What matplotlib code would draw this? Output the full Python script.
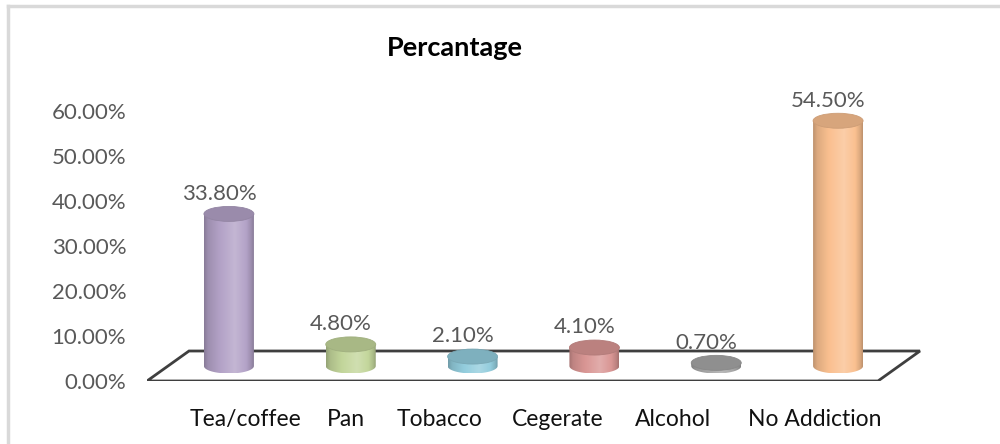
import numpy as np
import matplotlib
matplotlib.use("Agg")
import matplotlib.pyplot as plt
from matplotlib.patches import Ellipse, Polygon, PathPatch
from matplotlib.path import Path
from matplotlib.colors import to_rgb
from matplotlib.lines import Line2D

# ---- data ----
categories = ["Tea/coffee", "Pan", "Tobacco", "Cegerate", "Alcohol", "No Addiction"]
values = [33.8, 4.8, 2.1, 4.1, 0.7, 54.5]
value_labels = ["33.80%", "4.80%", "2.10%", "4.10%", "0.70%", "54.50%"]
y_ticks = [0, 10, 20, 30, 40, 50, 60]
y_tick_labels = ["0.00%", "10.00%", "20.00%", "30.00%", "40.00%", "50.00%", "60.00%"]
bar_colors = ["#B3A2C7", "#C3D69B", "#93CDDD", "#D99694", "#A6A6A6", "#FAC090"]
chart_title = "Percantage"

plt.rcParams["font.family"] = ["Lato", "DejaVu Sans"]

# ---- layout (pixels) ----
W, H = 1000, 444
fig = plt.figure(figsize=(W / 100, H / 100), dpi=100)
fig.patch.set_facecolor("white")

left_px, right_px = 147, 960
front_px, top_px = 381, 60
unit_px = (878 - 147) / 6.0          # one category slot on the floor front edge
pct_px = (381 - 111) / 60.0          # pixels per percentage point
ax = fig.add_axes([left_px / W, (H - front_px) / H,
                   (right_px - left_px) / W, (front_px - top_px) / H])

depth_x = 42 / unit_px               # floor depth, horizontal component
depth_y = 30 / pct_px                # floor depth, vertical component
cyl_w = 50 / unit_px
cyl_eh = 15 / pct_px


def shade(rgb, f):
    rgb = np.asarray(rgb)
    if f >= 1:
        return rgb + (1 - rgb) * (f - 1) * 2.2
    return rgb * f


# floor
floor = Polygon([(-0.5, 0), (5.5, 0), (5.5 + depth_x, depth_y), (-0.5 + depth_x, depth_y)],
                closed=True, facecolor="white", edgecolor="#3f3f3f", lw=2.0, zorder=1)
ax.add_patch(floor)

# shading profile across a cylinder body (left -> right)
t_nodes = [0.0, 0.08, 0.3, 0.62, 0.85, 0.95, 1.0]
f_nodes = [0.76, 0.88, 0.99, 1.10, 1.0, 0.87, 0.76]
t = np.linspace(0, 1, 120)
prof = np.interp(t, t_nodes, f_nodes)

for i, (v, c) in enumerate(zip(values, bar_colors)):
    base_rgb = to_rgb(c)
    xc = i + depth_x / 2
    y0 = depth_y / 2
    x_l, x_r = xc - cyl_w / 2, xc + cyl_w / 2
    top = y0 + v

    # body outline: sides plus lower half of base ellipse
    th = np.linspace(np.pi, 2 * np.pi, 60)
    arc = np.column_stack([xc + cyl_w / 2 * np.cos(th), y0 + cyl_eh / 2 * np.sin(th)])
    verts = np.vstack([[x_l, top], arc, [x_r, top], [x_l, top]])
    body = PathPatch(Path(verts), facecolor="none", edgecolor="none", zorder=2)
    ax.add_patch(body)

    grad = np.array([shade(base_rgb, f) for f in prof]).clip(0, 1)
    img = ax.imshow(grad[np.newaxis, :, :], extent=[x_l, x_r, y0 - cyl_eh / 2, top],
                    aspect="auto", interpolation="bilinear", zorder=2)
    img.set_clip_path(body)

    # top cap
    cap = Ellipse((xc, top), cyl_w, cyl_eh, facecolor=shade(base_rgb, 0.86),
                  edgecolor=shade(base_rgb, 0.82), lw=0.6, zorder=3)
    ax.add_patch(cap)

    ax.annotate(value_labels[i], xy=(xc, top), xytext=(-7.2, 14.5),
                textcoords="offset points", ha="center", va="center",
                fontsize=16, color="#595959", zorder=5)

# category labels below the floor
label_nudge = [0.31, 0.13, -0.10, -0.13, -0.18, -0.02]
for i, name in enumerate(categories):
    ax.annotate(name, xy=(i + label_nudge[i], 0), xytext=(0, -28),
                textcoords="offset points", ha="center", va="center",
                fontsize=16.5, color="#111111", annotation_clip=False)

ax.set_xlim(-0.5, -0.5 + (right_px - left_px) / unit_px)
ax.set_ylim(0, (front_px - top_px) / pct_px)
ax.set_yticks(y_ticks)
ax.set_yticklabels(y_tick_labels, fontsize=16, color="#595959")
ax.tick_params(axis="y", length=0, pad=15)
ax.set_xticks([])
for s in ax.spines.values():
    s.set_visible(False)
ax.patch.set_alpha(0)

fig.text(455 / W, 1 - 48 / H, chart_title, ha="center", va="center",
         fontsize=19.5, fontweight="bold", color="#000000")

# outer frame (top and left edges)
fig.add_artist(Line2D([8 / W, 1], [1 - 6 / H, 1 - 6 / H], color="#d9d9d9", lw=2.5))
fig.add_artist(Line2D([8 / W, 8 / W], [0, 1 - 6 / H], color="#d9d9d9", lw=2.5))

fig.savefig("out.png", dpi=100)
